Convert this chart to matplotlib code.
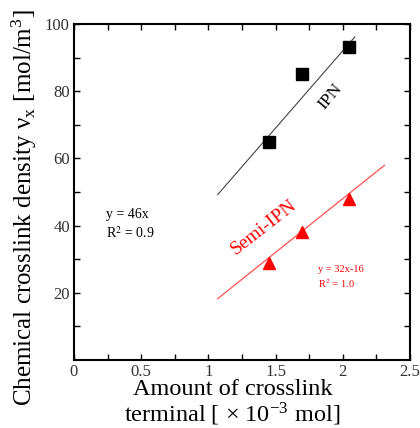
import matplotlib
matplotlib.use("Agg")
import matplotlib.pyplot as plt
import numpy as np

plt.rcParams['font.family'] = ['Liberation Serif', 'DejaVu Serif']
plt.rcParams['mathtext.fontset'] = 'stix'

# data
amount = [1.45, 1.70, 2.05]
ipn_density = [65, 85, 93]
semi_density = [29, 38, 48]

# fitted lines (from the printed equations)
ipn_fit_x = [1.07, 2.09]
semi_fit_x = [1.07, 2.31]
ipn_slope = 46
semi_slope, semi_icpt = 32, -16

x_ticks = [0, 0.5, 1, 1.5, 2, 2.5]
x_ticklabels = ["0", "0.5", "1", "1.5", "2", "2.5"]
y_ticks = [20, 40, 60, 80, 100]


fig = plt.figure(figsize=(4.2, 4.28), dpi=100)
ax = fig.add_axes([0.176, 0.159, 0.800, 0.785])

fx = np.array(ipn_fit_x)
ax.plot(fx, ipn_slope * fx, color="#444444", lw=0.8)
fx = np.array(semi_fit_x)
ax.plot(fx, semi_slope * fx + semi_icpt, color="#ff5050", lw=0.9)

ax.plot(amount, ipn_density, "s", color="black", markersize=8)
ax.plot(amount, semi_density, "^", color="red", markersize=8.5)

ax.text(0.24, 43.2, "y = 46x", fontsize=10, va="center")
ax.text(0.24, 37.8, "R$^2$ = 0.9", fontsize=10, va="center")
ax.text(1.815, 26.8, "y = 32x-16", fontsize=7.5, color="red", va="center")
ax.text(1.815, 22.8, "R$^2$ = 1.0", fontsize=7.5, color="red", va="center")

ax.text(1.91, 78.3, "IPN", fontsize=12.5, rotation=50, ha="center", va="center")
ax.text(1.41, 39.6, "Semi-IPN", fontsize=14, rotation=38, ha="center",
        va="center", color="red")

ax.set_xlim(0, 2.5)
ax.set_ylim(0, 100)
ax.set_xticks(x_ticks)
ax.set_xticklabels(x_ticklabels)
ax.set_yticks(y_ticks)
ax.set_xticks(np.arange(0.25, 2.5, 0.5), minor=True)
ax.set_yticks(np.arange(10, 100, 20), minor=True)
ax.tick_params(which="both", direction="in", top=True, right=True,
               length=4, width=1, labelsize=12, labelcolor="#333333", pad=3)
for s in ax.spines.values():
    s.set_linewidth(1.5)

fig.text(0.553, 0.091, "Amount of crosslink", fontsize=17.5, ha="center", va="center")
fig.text(0.553, 0.032, "terminal [ \u00d7 10$^{\\mathregular{-3}}$ mol]", fontsize=17.5,
         ha="center", va="center")
fig.text(0.058, 0.98, "Chemical crosslink density \u03bd$_{\\mathregular{x}}$ [mol/m$^{\\mathregular{3}}$]",
         fontsize=18, rotation=90, ha="center", va="top")

fig.savefig("out.png", dpi=100)
